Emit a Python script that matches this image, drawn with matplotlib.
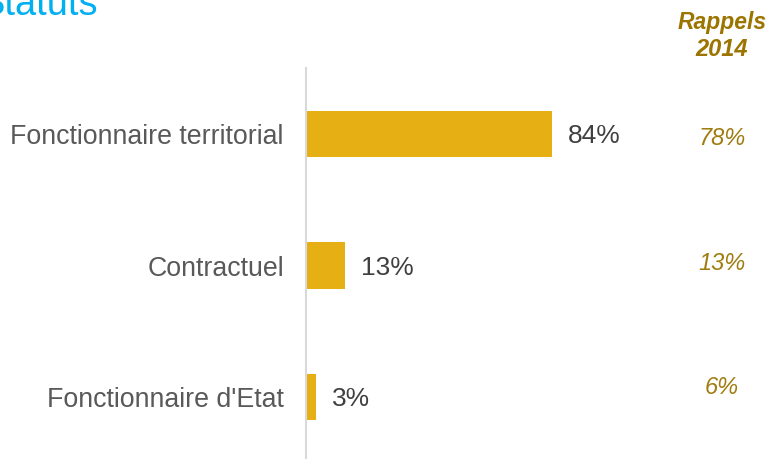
import matplotlib
matplotlib.use("Agg")
import matplotlib.pyplot as plt

categories = ["Fonctionnaire territorial", "Contractuel", "Fonctionnaire d'Etat"]
values_2017 = [84, 13, 3]
rappels_2014 = [78, 13, 6]

plt.rcParams['font.family'] = ['Liberation Sans', 'DejaVu Sans']

W, H = 773, 459
fig = plt.figure(figsize=(W / 100, H / 100), dpi=100)

# axes geometry in pixels
ax_left, ax_top, ax_bottom = 306, 68, 463
px_per_unit = 2.92
ax = fig.add_axes([ax_left / W, (H - ax_bottom) / H, 100 * px_per_unit / W, (ax_bottom - ax_top) / H])

y = list(range(len(categories)))
ax.barh(y, values_2017, height=0.35, color='#E6AF14', left=0.3)
ax.set_xlim(0, 100)
ax.set_ylim(2.5, -0.5)

for yi, v in zip(y, values_2017):
    ax.annotate(f"{v}%", xy=(v + 0.3, yi), xytext=(11.5, -1.5), textcoords='offset points',
                va='center', ha='left', fontsize=19, color='#404040')

ax.set_yticks(y)
ax.set_yticklabels(categories, fontsize=19.3, color='#595959')
ax.tick_params(axis='y', length=0, pad=16)
ax.set_xticks([])
for s in ['top', 'right', 'bottom']:
    ax.spines[s].set_visible(False)
ax.spines['left'].set_color('#D9D9D9')
ax.spines['left'].set_linewidth(1.5)
ax.patch.set_alpha(0)

# Rappels 2014 column
gold = '#9C7400'
fig.text(722 / W, 1 - 23 / H, "Rappels", ha='center', va='center', fontsize=16.5,
         fontweight='bold', fontstyle='italic', color=gold)
fig.text(722 / W, 1 - 49 / H, "2014", ha='center', va='center', fontsize=17,
         fontweight='bold', fontstyle='italic', color=gold)
rappel_y_px = [138.5, 263.5, 388]
for yp, v in zip(rappel_y_px, rappels_2014):
    fig.text(722 / W, 1 - yp / H, f"{v}%", ha='center', va='center', fontsize=17,
             fontstyle='italic', color='#A07C10')

# Title (cut off at top-left as in reference)
fig.text(-21 / W, 1 - 15 / H, "Statuts", ha='left', va='baseline', fontsize=27.4, color='#00B0F0')

fig.savefig("out.png", dpi=100)
